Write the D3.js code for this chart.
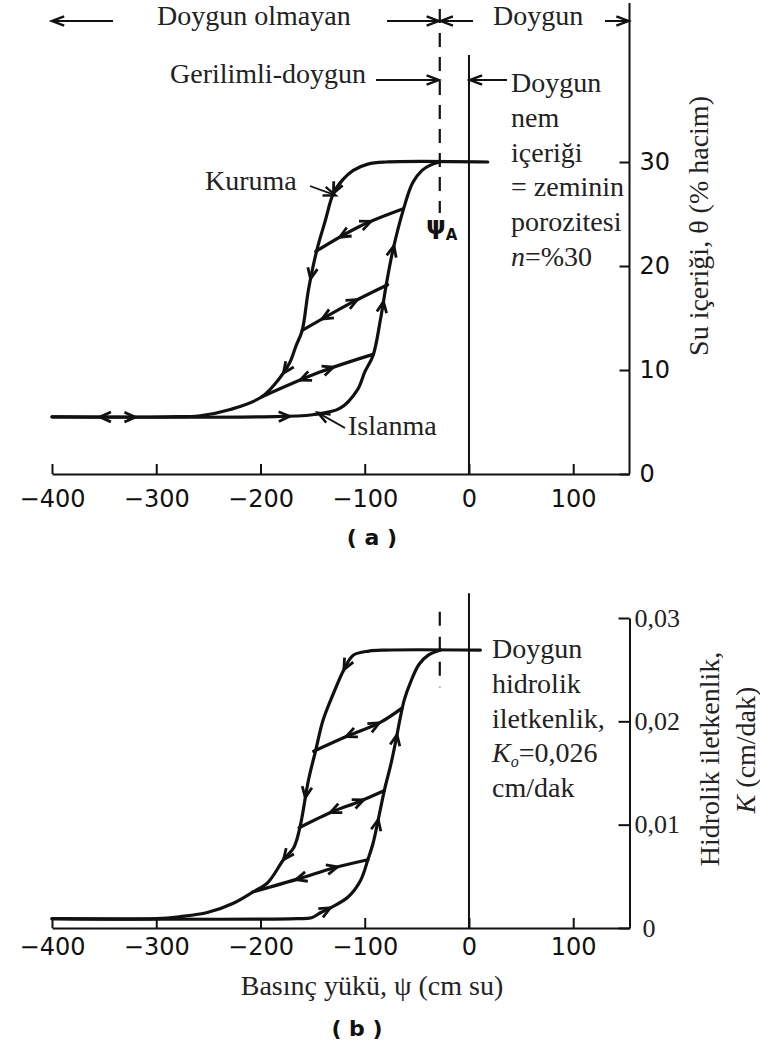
<!DOCTYPE html>
<html>
<head>
<meta charset="utf-8">
<script src="https://cdn.jsdelivr.net/npm/d3@7"></script>
<style>
body { margin: 0; background: #fff; }
.serif { font-family: "Liberation Serif", "Times New Roman", serif; font-size: 28px; fill: #222; }
.axis text { font-family: "DejaVu Sans", sans-serif; font-size: 24px; fill: #111; }
.axis path, .axis line { stroke: #111; stroke-width: 2; }
.kaxis text { font-family: "Liberation Serif", serif; font-size: 26px; fill: #222; }
</style>
</head>
<body>
<script>
// ---- data (psi in cm water, theta in % volume, K in cm/min) ----
var psiTicks = [-400, -300, -200, -100, 0, 100];
var thetaTicks = [0, 10, 20, 30];
var kTicks = [0, 0.01, 0.02, 0.03];
var psiA = -28;

// (a) water content
var dryingA = [[18,30],[-80,30],[-97,29.8],[-111,29.2],[-121,28.3],[-130,27.0],[-138,24.3],[-146,21.5],
  [-154,17.7],[-160,13.8],[-166,12.3],[-172,10.7],[-181,9.3],[-199,7.4],[-229,6.2],[-258,5.6],[-290,5.5],[-400,5.5]];
var wettingA = [[-400,5.5],[-200,5.5],[-150,5.7],[-124,6.3],[-107,8.1],[-100,9.8],[-92,11.4],[-85,14.8],
  [-79,18.4],[-73,21.5],[-63,25.4],[-54,28.0],[-45,29.2],[-37,29.7],[-28,30]];
var scanA1 = [[-63,25.5],[-105,23.8],[-147,21.4]];
var scanA2 = [[-78,18.2],[-114,16.4],[-160,13.8]];
var scanA3 = [[-92,11.5],[-143,9.8],[-199,7.4]];

// (b) hydraulic conductivity
var dryingB = [[11,0.0269],[-80,0.0269],[-96,0.0268],[-111,0.0264],[-120,0.0250],[-130,0.0227],[-140,0.0201],
  [-147,0.0172],[-154,0.0143],[-162,0.0098],[-168,0.0078],[-178,0.0066],[-193,0.0044],[-207,0.0035],
  [-226,0.0024],[-251,0.0015],[-277,0.0011],[-300,0.0009],[-400,0.0009]];
var wettingB = [[-400,0.0009],[-165,0.0009],[-151,0.0010],[-142,0.0015],[-132,0.0020],[-116,0.0030],[-104,0.0046],
  [-97,0.0066],[-92,0.0082],[-87,0.0105],[-81,0.0134],[-75,0.0158],[-70,0.0182],[-66,0.0203],[-62,0.0221],
  [-56,0.0238],[-48,0.0255],[-39,0.0264],[-27,0.0269]];
var scanB1 = [[-64,0.0213],[-85,0.0199],[-116,0.0186],[-149,0.0171]];
var scanB2 = [[-81,0.0133],[-106,0.0122],[-130,0.0113],[-163,0.0097]];
var scanB3 = [[-97,0.0066],[-130,0.0058],[-162,0.0048],[-207,0.0035]];

// arrow positions on curves: [psi, +1 along the path / -1 against]
var arrowsDryA = [[-130,1],[-152,1],[-178,1],[-354,1]];
var arrowsWetA = [[-320,1],[-172,1],[-82,1],[-72,1]];
var arrowsScanA1 = [[-124,1],[-94,-1]];
var arrowsScanA2 = [[-141,1],[-107,-1]];
var arrowsScanA3 = [[-162,1],[-130,-1]];
var arrowsDryB = [[-120,1],[-157,1],[-178,1]];
var arrowsWetB = [[-133,1],[-87,1],[-69,1]];
var arrowsScanB1 = [[-118,1],[-86,-1]];
var arrowsScanB2 = [[-133,1],[-101,-1]];
var arrowsScanB3 = [[-166,1],[-126,-1]];

var textA = ["Doygun", "nem", "içeriği", "= zeminin", "porozitesi"];
var textB = ["Doygun", "hidrolik", "iletkenlik,"];

// ---- scales ----
var svg = d3.select("body").append("svg")
    .attr("width", 760)
    .attr("height", 1046);

var x = d3.scaleLinear().domain([-400, 154]).range([52, 629.5]);
var yA = d3.scaleLinear().domain([0, 30]).range([474, 162]);
var yB = d3.scaleLinear().domain([0, 0.03]).range([928, 618]);
var xRight = x.range()[1];

var lineA = d3.line().x(function(d) { return x(d[0]); }).y(function(d) { return yA(d[1]); })
    .curve(d3.curveCatmullRom.alpha(0.5));
var lineB = d3.line().x(function(d) { return x(d[0]); }).y(function(d) { return yB(d[1]); })
    .curve(d3.curveCatmullRom.alpha(0.5));

// open chevron arrow head
function chevron(g, px, py, ang, len, spread, sw) {
  var a1 = ang + Math.PI - spread, a2 = ang + Math.PI + spread;
  g.append("path")
    .attr("d", "M" + (px + len * Math.cos(a1)) + "," + (py + len * Math.sin(a1)) +
               "L" + px + "," + py +
               "L" + (px + len * Math.cos(a2)) + "," + (py + len * Math.sin(a2)))
    .attr("fill", "none").attr("stroke", "#111")
    .attr("stroke-width", sw || 2.8).attr("stroke-linejoin", "miter");
}

function arrowLine(g, x0, y0, x1, y1, sw) {
  g.append("line").attr("x1", x0).attr("y1", y0).attr("x2", x1).attr("y2", y1)
    .attr("stroke", "#111").attr("stroke-width", sw || 2);
  chevron(g, x1, y1, Math.atan2(y1 - y0, x1 - x0), 13, 0.36, 2.4);
}

function lengthAtX(node, px) {
  var total = node.getTotalLength();
  var inc = node.getPointAtLength(total).x > node.getPointAtLength(0).x;
  var lo = 0, hi = total;
  for (var i = 0; i < 40; i++) {
    var mid = (lo + hi) / 2;
    var p = node.getPointAtLength(mid);
    if ((p.x < px) === inc) lo = mid; else hi = mid;
  }
  return lo;
}

function drawCurve(g, line, data, arrows) {
  var path = g.append("path").datum(data)
    .attr("d", line)
    .attr("fill", "none").attr("stroke", "#111")
    .attr("stroke-width", 3.2).attr("stroke-linecap", "round");
  var node = path.node(), total = node.getTotalLength();
  arrows.forEach(function(a) {
    var L = lengthAtX(node, x(a[0]));
    var q0 = node.getPointAtLength(Math.max(0, L - 3)),
        q1 = node.getPointAtLength(Math.min(total, L + 3));
    var ang = Math.atan2(q1.y - q0.y, q1.x - q0.x);
    if (a[1] < 0) ang += Math.PI;
    var pt = node.getPointAtLength(L);
    chevron(g, pt.x, pt.y, ang, 12, 0.42);
  });
}

function tickFmtPsi(d) { return d < 0 ? "\u2212" + (-d) : String(d); }

// ================= panel (a) =================
var gA = svg.append("g");

// x axis
gA.append("g").attr("class", "axis")
    .attr("transform", "translate(0," + yA(0) + ")")
    .call(d3.axisBottom(x).tickValues(psiTicks).tickSize(-10).tickSizeOuter(0)
      .tickPadding(16).tickFormat(tickFmtPsi));

// right axis
var rA = gA.append("g").attr("class", "axis")
    .attr("transform", "translate(" + xRight + ",0)")
    .call(d3.axisRight(yA).tickValues(thetaTicks).tickSize(-10).tickSizeOuter(0).tickPadding(10));
rA.select(".domain").remove();
gA.append("line").attr("x1", xRight).attr("x2", xRight)
    .attr("y1", yA(0)).attr("y2", yA(45.3))
    .attr("stroke", "#111").attr("stroke-width", 2);

// psi = 0 line and psi_A dashed line
gA.append("line").attr("x1", x(0)).attr("x2", x(0)).attr("y1", yA(0)).attr("y2", yA(40.3))
    .attr("stroke", "#111").attr("stroke-width", 2);
gA.append("line").attr("x1", x(psiA)).attr("x2", x(psiA)).attr("y1", yA(44.7)).attr("y2", yA(25.1))
    .attr("stroke", "#111").attr("stroke-width", 2.2).attr("stroke-dasharray", "14,10");

// curves
drawCurve(gA, lineA, wettingA, arrowsWetA);
drawCurve(gA, lineA, dryingA, arrowsDryA);
drawCurve(gA, lineA, scanA1, arrowsScanA1);
drawCurve(gA, lineA, scanA2, arrowsScanA2);
drawCurve(gA, lineA, scanA3, arrowsScanA3);

// top zone annotations
gA.append("text").attr("class", "serif").attr("x", 157).attr("y", 25).text("Doygun olmayan");
gA.append("text").attr("class", "serif").attr("x", 493).attr("y", 25).text("Doygun");
arrowLine(gA, 113, 21, x(-400), 21);
arrowLine(gA, 387, 21, x(psiA) - 1, 21);
arrowLine(gA, 473, 21, x(psiA) + 1, 21);
arrowLine(gA, 605, 21, xRight - 1, 21);

gA.append("text").attr("class", "serif").attr("x", 170).attr("y", 83).text("Gerilimli-doygun");
arrowLine(gA, 376, 80, x(psiA) - 1, 80);
arrowLine(gA, 507, 80, x(0) + 1, 80);

// saturated text
gA.selectAll(".satA").data(textA).enter().append("text")
    .attr("class", "serif satA")
    .attr("x", 511)
    .attr("y", function(d, i) { return 92 + i * 34.8; })
    .text(function(d) { return d; });
var nLine = gA.append("text").attr("class", "serif").attr("x", 511).attr("y", 92 + 5 * 34.8);
nLine.append("tspan").attr("font-style", "italic").text("n");
nLine.append("tspan").text("=%30");

// psi_A label
var psiLab = gA.append("text").attr("x", 426).attr("y", 234)
    .attr("font-family", "DejaVu Sans, sans-serif").attr("font-weight", "bold")
    .attr("font-size", 25).attr("fill", "#111");
psiLab.append("tspan").text("\u03c8");
psiLab.append("tspan").attr("font-size", 15).attr("dy", 6).text("A");

// Kuruma / Islanma
gA.append("text").attr("class", "serif").attr("x", 205).attr("y", 190).text("Kuruma");
arrowLine(gA, 310, 186, x(-128), yA(26.8), 1.8);
gA.append("text").attr("class", "serif").attr("x", 348).attr("y", 435).text("Islanma");
arrowLine(gA, 345, 428, x(-145), yA(5.9), 1.8);

// y label
gA.append("text").attr("class", "serif")
    .attr("transform", "translate(708,226) rotate(-90)")
    .attr("text-anchor", "middle")
    .text("Su içeriği, θ (% hacim)");

gA.append("text").attr("x", 372).attr("y", 545).attr("text-anchor", "middle")
    .attr("font-family", "DejaVu Sans, sans-serif").attr("font-weight", "bold")
    .attr("font-size", 22).attr("fill", "#111").text("( a )");

// ================= panel (b) =================
var gB = svg.append("g");

gB.append("g").attr("class", "axis")
    .attr("transform", "translate(0," + yB(0) + ")")
    .call(d3.axisBottom(x).tickValues(psiTicks).tickSize(-10).tickSizeOuter(0)
      .tickPadding(10).tickFormat(tickFmtPsi));

var rB = gB.append("g").attr("class", "axis kaxis")
    .attr("transform", "translate(" + xRight + ",0)")
    .call(d3.axisRight(yB).tickValues(kTicks).tickSize(-11).tickSizeOuter(0).tickPadding(5)
      .tickFormat(function(d) { return d === 0 ? "0" : d.toFixed(2).replace(".", ","); }));
rB.selectAll(".tick text").filter(function(d) { return d === 0; }).attr("x", 13);

gB.append("line").attr("x1", x(0)).attr("x2", x(0)).attr("y1", yB(0)).attr("y2", yB(0.0324))
    .attr("stroke", "#111").attr("stroke-width", 2);
gB.append("line").attr("x1", x(psiA)).attr("x2", x(psiA)).attr("y1", yB(0.0306)).attr("y2", yB(0.0233))
    .attr("stroke", "#111").attr("stroke-width", 2.2).attr("stroke-dasharray", "14,11");

drawCurve(gB, lineB, wettingB, arrowsWetB);
drawCurve(gB, lineB, dryingB, arrowsDryB);
drawCurve(gB, lineB, scanB1, arrowsScanB1);
drawCurve(gB, lineB, scanB2, arrowsScanB2);
drawCurve(gB, lineB, scanB3, arrowsScanB3);

gB.selectAll(".satB").data(textB).enter().append("text")
    .attr("class", "serif satB")
    .attr("x", 492)
    .attr("y", function(d, i) { return 658 + i * 34.8; })
    .text(function(d) { return d; });
var kLine = gB.append("text").attr("class", "serif").attr("x", 492).attr("y", 658 + 3 * 34.8);
kLine.append("tspan").attr("font-style", "italic").text("K");
kLine.append("tspan").attr("font-style", "italic").attr("font-size", 16).attr("dy", 5).text("o");
kLine.append("tspan").attr("dy", -5).text("=0,026");
gB.append("text").attr("class", "serif").attr("x", 492).attr("y", 658 + 4 * 34.8).text("cm/dak");

gB.append("text").attr("class", "serif")
    .attr("transform", "translate(719,759) rotate(-90)")
    .attr("text-anchor", "middle")
    .text("Hidrolik iletkenlik,");
var kLab = gB.append("text").attr("class", "serif")
    .attr("transform", "translate(755,750) rotate(-90)")
    .attr("text-anchor", "middle");
kLab.append("tspan").attr("font-style", "italic").text("K");
kLab.append("tspan").text(" (cm/dak)");

gB.append("text").attr("class", "serif").attr("x", 372).attr("y", 995).attr("text-anchor", "middle")
    .text("Basınç yükü, ψ (cm su)");
gB.append("text").attr("x", 357).attr("y", 1036).attr("text-anchor", "middle")
    .attr("font-family", "DejaVu Sans, sans-serif").attr("font-weight", "bold")
    .attr("font-size", 22).attr("fill", "#111").text("( b )");
</script>
</body>
</html>
